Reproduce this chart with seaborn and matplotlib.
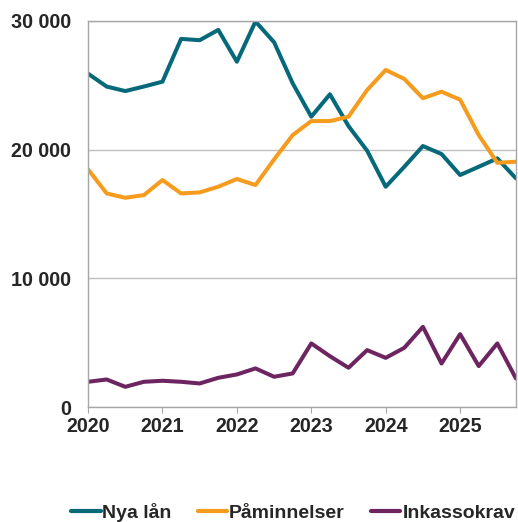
import matplotlib
matplotlib.use("Agg")
import matplotlib.pyplot as plt
import matplotlib.ticker as mticker
import seaborn as sns
import numpy as np
import pandas as pd

sns.set_style("white")
plt.rcParams['font.family'] = ['Liberation Sans', 'DejaVu Sans']
plt.rcParams['font.weight'] = 'bold'

# kvartal 2020 Q1 - 2025 Q4
quarters = [2020 + q * 0.25 for q in range(24)]

nya_lan = [25900, 24900, 24550, 24900, 25280, 28600, 28500, 29300,
           26830, 29950, 28340, 25150, 22560, 24300, 21830, 19920,
           17120, 18670, 20280, 19660, 18030, 18670, 19320, 17770]
paminnelser = [18470, 16600, 16260, 16470, 17640, 16600, 16680, 17120,
               17720, 17250, 19240, 21130, 22220, 22220, 22560, 24630,
               26190, 25490, 23990, 24500, 23880, 21130, 18980, 19060]
inkassokrav = [1970, 2150, 1580, 1970, 2050, 1970, 1840, 2280,
               2540, 3010, 2360, 2620, 4950, 3960, 3060, 4430,
               3830, 4610, 6240, 3390, 5670, 3190, 4950, 2230]

series_names = ['Nya lån', 'Påminnelser', 'Inkassokrav']
colors = ['#05697A', '#F59C1E', '#6C2560']

df = pd.DataFrame({
    'kvartal': quarters * 3,
    'antal': nya_lan + paminnelser + inkassokrav,
    'serie': np.repeat(series_names, len(quarters)),
})

fig = plt.figure(figsize=(5.18, 5.22), dpi=100)
ax = fig.add_axes([0.170, 0.220, 0.826, 0.740])

sns.lineplot(data=df, x='kvartal', y='antal', hue='serie',
             hue_order=series_names, palette=colors, linewidth=2.9,
             ax=ax, legend=False)

ax.set_xlim(2020, 2025.75)
ax.set_ylim(0, 30000)
ax.set_xticks([2020, 2021, 2022, 2023, 2024, 2025])
ax.set_yticks([0, 10000, 20000, 30000])
ax.yaxis.set_major_formatter(mticker.FuncFormatter(lambda v, p: f"{int(v):,}".replace(',', ' ')))
ax.set_xlabel('')
ax.set_ylabel('')

# rutnät och ram
ax.grid(axis='y', color='#BFBFBF', linewidth=1)
for s in ax.spines.values():
    s.set_color('#A6A6A6')
    s.set_linewidth(1)
ax.tick_params(axis='x', which='major', bottom=True, length=4, color='#A6A6A6',
               labelsize=14.2, pad=3)
ax.tick_params(axis='y', left=False, labelsize=14.2, pad=9)
for lbl in ax.get_xticklabels() + ax.get_yticklabels():
    lbl.set_fontweight('bold')

handles = [plt.Line2D([0], [0], color=c, linewidth=3) for c in colors]
fig.legend(handles, series_names, loc='center', bbox_to_anchor=(0.566, 0.018),
           ncol=3, frameon=False, handlelength=1.5,
           handletextpad=0.1, columnspacing=1.35,
           prop={'weight': 'bold', 'size': 14.0})

fig.savefig('out.png', dpi=100)
